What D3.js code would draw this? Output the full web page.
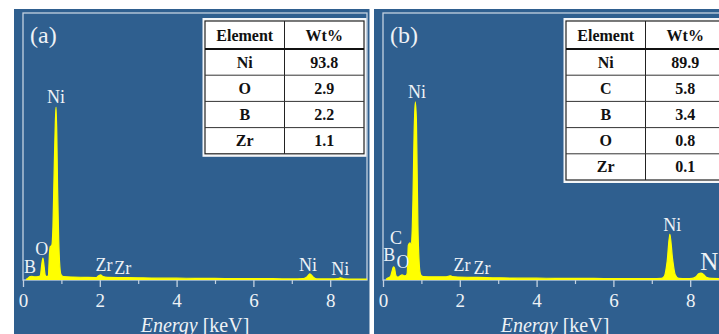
<!DOCTYPE html>
<html>
<head>
<meta charset="utf-8">
<script src="https://cdn.jsdelivr.net/npm/d3@7/dist/d3.min.js"></script>
<style>
html,body{margin:0;padding:0;background:#fff;}
svg{display:block;}
svg text{font-family:"Liberation Serif", serif;}
</style>
</head>
<body>
<svg id="chart" width="719" height="334"></svg>
<script>
// ---------- DATA ----------
// Panel (a) spectrum: energy (keV) and relative intensity
const energyA = [0.08,0.12,0.17,0.22,0.30,0.40,0.45,0.49,0.52,0.55,0.58,0.62,0.66,0.69,0.71,0.75,0.78,0.81,0.84,0.86,0.88,0.90,0.93,0.96,0.99,1.05,1.3,1.6,1.9,1.97,2.02,2.08,2.2,2.6,3.0,3.5,4.0,4.5,5.0,5.5,6.0,6.5,7.0,7.3,7.4,7.47,7.55,7.65,8.0,8.2,8.27,8.35,8.6,9.0];
const countsA = [0.3,0.5,1.2,1.4,1.2,1.3,1.6,6.0,8.2,5.0,1.8,1.3,1.6,10.0,12.5,13.0,20.0,40.0,58.0,64.8,55.0,35.0,15.0,5.0,2.0,1.3,1.1,1.0,0.9,1.6,1.9,1.3,1.0,0.9,0.8,0.7,0.7,0.6,0.6,0.5,0.5,0.5,0.4,0.5,1.2,2.3,1.2,0.4,0.4,0.5,0.8,0.4,0.3,0.3];

// Panel (b) spectrum
const energyB = [0.08,0.14,0.20,0.24,0.27,0.30,0.33,0.36,0.40,0.44,0.50,0.55,0.60,0.63,0.66,0.70,0.74,0.78,0.81,0.84,0.87,0.89,0.91,0.94,0.97,1.0,1.05,1.3,1.6,1.70,1.75,1.80,1.95,2.3,2.7,3.0,3.5,4.0,4.5,5.0,5.5,6.0,6.5,7.0,7.25,7.33,7.40,7.47,7.54,7.61,7.70,7.9,8.05,8.15,8.22,8.28,8.34,8.42,8.55,9.0];
const countsB = [0.3,0.8,1.5,3.5,4.9,4.5,2.0,1.2,1.1,1.5,1.9,1.6,1.7,2.5,13.0,13.9,13.5,30.0,55.0,66.7,60.0,40.0,20.0,7.0,2.5,1.6,1.3,1.2,1.2,1.4,1.6,1.3,1.1,1.0,0.9,0.8,0.7,0.7,0.6,0.6,0.6,0.5,0.5,0.5,0.6,1.5,7.0,17.2,8.0,2.0,0.6,0.5,0.6,1.2,2.3,2.6,2.2,1.0,0.6,0.5];

// Peak annotations: text, energy (keV), height (relative intensity)
const labelTextA   = ["Ni","B","O","Zr","Zr","Ni","Ni"];
const labelEnergyA = [0.86,0.18,0.49,2.11,2.60,7.42,8.26];
const labelLevelA  = [68.5,4.9,11.6,5.6,4.5,5.6,4.1];

const labelTextB   = ["Ni","B","C","O","Zr","Zr","Ni","Ni"];
const labelEnergyB = [0.885,0.16,0.34,0.52,2.06,2.58,7.53,8.59];
const labelLevelB  = [70.4,9.4,15.7,6.7,5.6,4.5,20.6,7.1];
const labelLargeB  = [false,false,false,false,false,false,false,true];

// Axis ticks
const majorTicks = [0,2,4,6,8];
const minorTicks = [1,3,5,7];

// Composition tables
const tableHeader = ["Element","Wt%"];
const elementsA = ["Ni","O","B","Zr"];
const wtA       = ["93.8","2.9","2.2","1.1"];
const elementsB = ["Ni","C","B","O","Zr"];
const wtB       = ["89.9","5.8","3.4","0.8","0.1"];

const panelTitles = ["(a)","(b)"];

// ---------- DRAWING ----------
const svg = d3.select("#chart");
const BLUE = "#2f5f8f";
const FRAME = "#c4d2e0";
const TXT = "#eef2f6";
const YEL = "#ffff00";

function drawPanel(cfg) {
  const g = svg.append("g");
  g.append("rect").attr("x", cfg.bgX).attr("y", 9).attr("width", cfg.bgW).attr("height", 334 - 9).attr("fill", BLUE);

  const x = d3.scaleLinear().domain([0, 9]).range([cfg.x0, cfg.x0 + 345.6]);
  const y = d3.scaleLinear().domain([0, 100]).range([280, 13]);

  g.append("rect").attr("x", cfg.x0).attr("y", 13)
    .attr("width", cfg.frameW).attr("height", 280 - 13)
    .attr("fill", "none").attr("stroke", FRAME).attr("stroke-width", 1.3);

  const pts = cfg.energy.map((e, i) => [e, cfg.counts[i]]);
  const area = d3.area().x(d => x(d[0])).y0(y(0)).y1(d => y(d[1])).curve(d3.curveMonotoneX);
  const line = d3.line().x(d => x(d[0])).y(d => y(d[1])).curve(d3.curveMonotoneX);
  const clipId = "clip" + cfg.id;
  g.append("clipPath").attr("id", clipId).append("rect")
    .attr("x", cfg.x0).attr("y", 13).attr("width", cfg.frameW).attr("height", 280 - 13);
  const sg = g.append("g").attr("clip-path", `url(#${clipId})`);
  sg.append("path").datum(pts).attr("d", area).attr("fill", YEL);
  sg.append("path").datum(pts).attr("d", line).attr("fill", "none").attr("stroke", YEL).attr("stroke-width", 1.2);

  const ax = g.append("g").attr("transform", "translate(0,280)");
  ax.call(d3.axisBottom(x).tickValues(majorTicks).tickSize(7).tickFormat(d3.format("d")));
  ax.select(".domain").remove();
  ax.attr("font-family", null);
  ax.selectAll(".tick line").attr("stroke", FRAME).attr("stroke-width", 1.3);
  ax.selectAll(".tick text").attr("fill", TXT).attr("font-size", 19).attr("dy", "0.65em").attr("y", 15);
  const axm = g.append("g").attr("transform", "translate(0,280)");
  axm.call(d3.axisBottom(x).tickValues(minorTicks).tickSize(4).tickFormat(""));
  axm.select(".domain").remove();
  axm.selectAll(".tick line").attr("stroke", FRAME).attr("stroke-width", 1.2);

  const t = g.append("text").attr("x", cfg.x0 + 172).attr("y", 332)
    .attr("text-anchor", "middle").attr("fill", TXT).attr("font-size", 20);
  t.append("tspan").attr("font-style", "italic").text("Energy");
  t.append("tspan").text(" [keV]");

  g.append("text").attr("x", cfg.x0 + 7).attr("y", 43).attr("fill", TXT)
    .attr("font-size", 24).text(cfg.title);

  cfg.labels.forEach((l, i) => {
    g.append("text").attr("x", x(cfg.labelEnergy[i])).attr("y", y(cfg.labelLevel[i]))
      .attr("text-anchor", "middle").attr("dominant-baseline", "central")
      .attr("fill", TXT)
      .attr("font-size", cfg.large && cfg.large[i] ? 25 : 18)
      .text(l);
  });

  const tb = g.append("g");
  const nRows = cfg.elements.length;
  const tx = cfg.tableX, ty = 21, colW = 79.5, headH = 28, rowH = 26.2;
  const tw = colW * 2, th = headH + rowH * nRows;
  tb.append("rect").attr("x", tx - 2.5).attr("y", ty - 3).attr("width", tw + 5).attr("height", th + 6).attr("fill", "#f4f6f8");
  tb.append("rect").attr("x", tx).attr("y", ty).attr("width", tw).attr("height", th).attr("fill", "#fff").attr("stroke", "#222").attr("stroke-width", 1.2);
  tb.append("line").attr("x1", tx + colW).attr("x2", tx + colW).attr("y1", ty).attr("y2", ty + th).attr("stroke", "#222").attr("stroke-width", 1);
  tb.append("line").attr("x1", tx).attr("x2", tx + tw).attr("y1", ty + headH).attr("y2", ty + headH).attr("stroke", "#111").attr("stroke-width", 2.2);
  for (let r = 1; r < nRows; r++) {
    tb.append("line").attr("x1", tx).attr("x2", tx + tw)
      .attr("y1", ty + headH + rowH * r).attr("y2", ty + headH + rowH * r).attr("stroke", "#333").attr("stroke-width", 1);
  }
  const cellText = (txt, cx, cy) => tb.append("text").attr("x", cx).attr("y", cy)
    .attr("text-anchor", "middle").attr("dominant-baseline", "central")
    .attr("font-weight", "bold").attr("font-size", 16).attr("fill", "#111").text(txt);
  cellText(tableHeader[0], tx + colW / 2, ty + headH / 2);
  cellText(tableHeader[1], tx + colW * 1.5, ty + headH / 2);
  cfg.elements.forEach((el, i) => {
    const cy = ty + headH + rowH * i + rowH / 2;
    cellText(el, tx + colW / 2, cy);
    cellText(cfg.wt[i], tx + colW * 1.5, cy);
  });
}

drawPanel({
  id: "A", bgX: 14, bgW: 355.5, x0: 23, frameW: 344, title: panelTitles[0],
  energy: energyA, counts: countsA,
  labels: labelTextA, labelEnergy: labelEnergyA, labelLevel: labelLevelA,
  tableX: 205, elements: elementsA, wt: wtA
});
drawPanel({
  id: "B", bgX: 374, bgW: 345, x0: 383, frameW: 400, title: panelTitles[1],
  energy: energyB, counts: countsB,
  labels: labelTextB, labelEnergy: labelEnergyB, labelLevel: labelLevelB, large: labelLargeB,
  tableX: 566, elements: elementsB, wt: wtB
});
</script>
</body>
</html>
